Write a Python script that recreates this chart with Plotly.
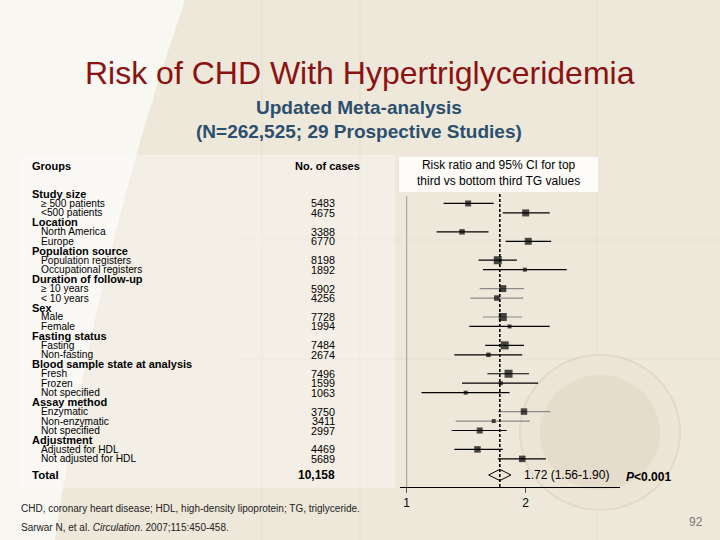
import plotly.graph_objects as go
import math

# ---------------- data ----------------
group_names = ["Study size", "Location", "Population source", "Duration of follow-up",
               "Sex", "Fasting status", "Blood sample state at analysis",
               "Assay method", "Adjustment"]
group_items = [
    ["\u2265 500 patients", "<500 patients"],
    ["North America", "Europe"],
    ["Population registers", "Occupational registers"],
    ["\u2265 10 years", "< 10 years"],
    ["Male", "Female"],
    ["Fasting", "Non-fasting"],
    ["Fresh", "Frozen", "Not specified"],
    ["Enzymatic", "Non-enzymatic", "Not specified"],
    ["Adjusted for HDL", "Not adjusted for HDL"],
]
cases = [5483, 4675, 3388, 6770, 8198, 1892, 5902, 4256, 7728, 1994,
         7484, 2674, 7496, 1599, 1063, 3750, 3411, 2997, 4469, 5689]
risk_ratio = [1.43, 2.00, 1.38, 2.03, 1.70, 1.99, 1.75, 1.69, 1.75, 1.82,
              1.77, 1.61, 1.81, 1.73, 1.41, 1.98, 1.66, 1.53, 1.51, 1.96]
ci_low = [1.24, 1.75, 1.19, 1.78, 1.52, 1.56, 1.53, 1.45, 1.56, 1.44,
          1.58, 1.32, 1.60, 1.38, 1.09, 1.70, 1.33, 1.30, 1.32, 1.70]
ci_high = [1.66, 2.30, 1.61, 2.32, 1.90, 2.54, 1.98, 1.97, 1.96, 2.30,
           1.98, 1.96, 2.04, 2.15, 1.82, 2.31, 2.05, 1.79, 1.75, 2.25]
weight_px = [6, 7, 5.5, 7, 8, 4, 7, 5.5, 8, 4, 8, 4.5, 8, 4, 4, 6.5, 4, 6, 6.5, 6.5]
gray_rows = [6, 7, 8, 15, 16]
total_cases = "10,158"
total_rr, total_lo, total_hi = 1.72, 1.56, 1.90
x_ticks = [1, 2]

# ---------------- layout helpers ----------------
W, H = 720, 540
ROW0_PX, ROW_STEP = 194.0, 9.46
AX_TOP_PX, AX_BOT_PX = 150.0, 487.0


def px2slot(py):
    return (py - ROW0_PX) / ROW_STEP


def xp(px):
    return px / W


def yp(py):
    return 1 - py / H


header_slots, item_slots = [], []
s = 0
for items in group_items:
    header_slots.append(s)
    s += 1
    for _ in items:
        item_slots.append(s)
        s += 1
total_slot = item_slots[-1] + 1.7

font_fam = "Arial, Liberation Sans, sans-serif"
fig = go.Figure()

for grp, col in [([i for i in range(len(cases)) if i not in gray_rows], "#000000"),
                 (gray_rows, "#8a8a8a")]:
    fig.add_trace(go.Scatter(
        x=[risk_ratio[i] for i in grp],
        y=[item_slots[i] for i in grp],
        mode="markers",
        marker=dict(symbol="square", color="#000000",
                    size=[weight_px[i] for i in grp], line=dict(width=0)),
        error_x=dict(type="data", symmetric=False,
                     array=[ci_high[i] - risk_ratio[i] for i in grp],
                     arrayminus=[risk_ratio[i] - ci_low[i] for i in grp],
                     width=0, thickness=1.2, color=col),
        hoverinfo="skip", showlegend=False, cliponaxis=False))

fig.add_trace(go.Scatter(
    x=[total_rr], y=[total_slot], mode="markers",
    marker=dict(symbol="diamond-wide-open", size=16, color="#000000",
                line=dict(width=1, color="#000000")),
    hoverinfo="skip", showlegend=False, cliponaxis=False))

shapes = []
shapes.append(dict(type="path", xref="paper", yref="paper",
                   path=f"M 0 1 L {xp(185)} 1 Q {xp(95)} {yp(260)} {xp(55)} 0 L 0 0 Z",
                   fillcolor="#f9f7f2", line=dict(width=0), layer="below"))
for gx in [262, 360, 597]:
    shapes.append(dict(type="line", xref="paper", yref="paper", x0=xp(gx), x1=xp(gx),
                       y0=0, y1=1, line=dict(color="#e6dfd0", width=1), layer="below"))
for gy in [240, 359]:
    shapes.append(dict(type="line", xref="paper", yref="paper", x0=xp(240), x1=1,
                       y0=yp(gy), y1=yp(gy), line=dict(color="#e6dfd0", width=1), layer="below"))
shapes.append(dict(type="rect", xref="paper", yref="paper", x0=xp(22), x1=xp(395),
                   y0=yp(488), y1=yp(155), fillcolor="rgba(255,255,255,0.3)",
                   line=dict(width=0), layer="below"))
shapes.append(dict(type="circle", xref="paper", yref="paper", x0=xp(520), x1=xp(680),
                   y0=yp(510), y1=yp(355), fillcolor="#ece5d6",
                   line=dict(color="#e3d9c6", width=2), layer="below"))
shapes.append(dict(type="circle", xref="paper", yref="paper", x0=xp(540), x1=xp(660),
                   y0=yp(490), y1=yp(375), fillcolor="#e6dccb",
                   line=dict(width=0), layer="below"))
shapes.append(dict(type="rect", xref="paper", yref="paper", x0=xp(399), x1=xp(598),
                   y0=yp(192), y1=yp(157), fillcolor="#fdfcf9",
                   line=dict(width=0), layer="below"))
shapes.append(dict(type="line", xref="x", yref="paper", x0=1, x1=1,
                   y0=yp(AX_BOT_PX), y1=yp(196), line=dict(color="#9a9a9a", width=1)))
shapes.append(dict(type="line", xref="x", yref="paper", x0=total_rr, x1=total_rr,
                   y0=yp(AX_BOT_PX), y1=yp(193),
                   line=dict(color="#000000", width=1.6, dash="3px,2px")))

ann = []


def add_text(text, x_px, slot, size=11, bold=False, anchor="left", color="#000000"):
    ann.append(dict(text=f"<b>{text}</b>" if bold else text, x=xp(x_px), xref="paper",
                    y=slot, yref="y", xanchor=anchor, yanchor="middle", showarrow=False,
                    font=dict(family=font_fam, size=size, color=color)))


add_text("Groups", 30, px2slot(166), size=11, bold=True)
add_text("No. of cases", 362, px2slot(166), size=11, bold=True, anchor="right")
k = 0
for g, items in enumerate(group_items):
    add_text(group_names[g], 30, header_slots[g], size=11, bold=True)
    for it in items:
        add_text(it, 39, item_slots[k], size=10.2)
        add_text(str(cases[k]), 337, item_slots[k], size=10.8, anchor="right")
        k += 1
add_text("Total", 30, total_slot, size=11.5, bold=True)
add_text(total_cases, 337, total_slot, size=12, bold=True, anchor="right")
add_text(f"{total_rr:.2f} ({total_lo:.2f}-{total_hi:.2f})", 522, total_slot, size=12)
add_text("<i>P</i><0.001", 624, total_slot + 0.2, size=12, bold=True)

ann.append(dict(text="Risk ratio and 95% CI for top<br>third vs bottom third TG values",
                x=xp(498), y=yp(173), xref="paper", yref="paper", xanchor="center",
                yanchor="middle", showarrow=False,
                font=dict(family=font_fam, size=12, color="#000000")))
ann.append(dict(text="Risk of CHD With Hypertriglyceridemia", x=xp(360), y=yp(73),
                xref="paper", yref="paper", xanchor="center", yanchor="middle",
                showarrow=False, font=dict(family=font_fam, size=32, color="#8b1212")))
ann.append(dict(text="<b>Updated Meta-analysis</b>", x=xp(359), y=yp(108),
                xref="paper", yref="paper", xanchor="center", yanchor="middle",
                showarrow=False, font=dict(family=font_fam, size=19, color="#2c4f6e")))
ann.append(dict(text="<b>(N=262,525; 29 Prospective Studies)</b>", x=xp(359), y=yp(131),
                xref="paper", yref="paper", xanchor="center", yanchor="middle",
                showarrow=False, font=dict(family=font_fam, size=19, color="#2c4f6e")))
ann.append(dict(text="CHD, coronary heart disease; HDL, high-density lipoprotein; TG, triglyceride.",
                x=xp(19), y=yp(509), xref="paper", yref="paper", xanchor="left",
                yanchor="middle", showarrow=False,
                font=dict(family=font_fam, size=10, color="#222222")))
ann.append(dict(text="Sarwar N, et al. <i>Circulation</i>. 2007;115:450-458.",
                x=xp(19), y=yp(527), xref="paper", yref="paper", xanchor="left",
                yanchor="middle", showarrow=False,
                font=dict(family=font_fam, size=10, color="#222222")))
ann.append(dict(text="92", x=xp(705), y=yp(522), xref="paper", yref="paper",
                xanchor="right", yanchor="middle", showarrow=False,
                font=dict(family=font_fam, size=12, color="#7a7a7a")))

px_per_dec = (525.7 - 406.7) / math.log10(2)
x_left = -(406.7 - 400) / px_per_dec
x_right = x_left + (620 - 400) / px_per_dec

fig.update_layout(
    width=W, height=H, margin=dict(l=0, r=0, t=0, b=0),
    paper_bgcolor="#eee8db", plot_bgcolor="rgba(0,0,0,0)",
    shapes=shapes, annotations=ann, showlegend=False,
    xaxis=dict(type="log", domain=[xp(400), xp(620)], range=[x_left, x_right],
               tickvals=x_ticks, ticktext=[str(t) for t in x_ticks],
               ticks="outside", ticklen=5, tickcolor="#555555", showgrid=False,
               zeroline=False, showline=True, linecolor="#000000", linewidth=1,
               tickfont=dict(family=font_fam, size=12, color="#000000")),
    yaxis=dict(domain=[yp(AX_BOT_PX), yp(AX_TOP_PX)],
               range=[px2slot(AX_BOT_PX), px2slot(AX_TOP_PX)],
               visible=False, showgrid=False, zeroline=False),
)

fig.write_html("out.html", config={"displayModeBar": False},
               post_script="document.body.style.margin='0';document.body.style.overflow='hidden';")
